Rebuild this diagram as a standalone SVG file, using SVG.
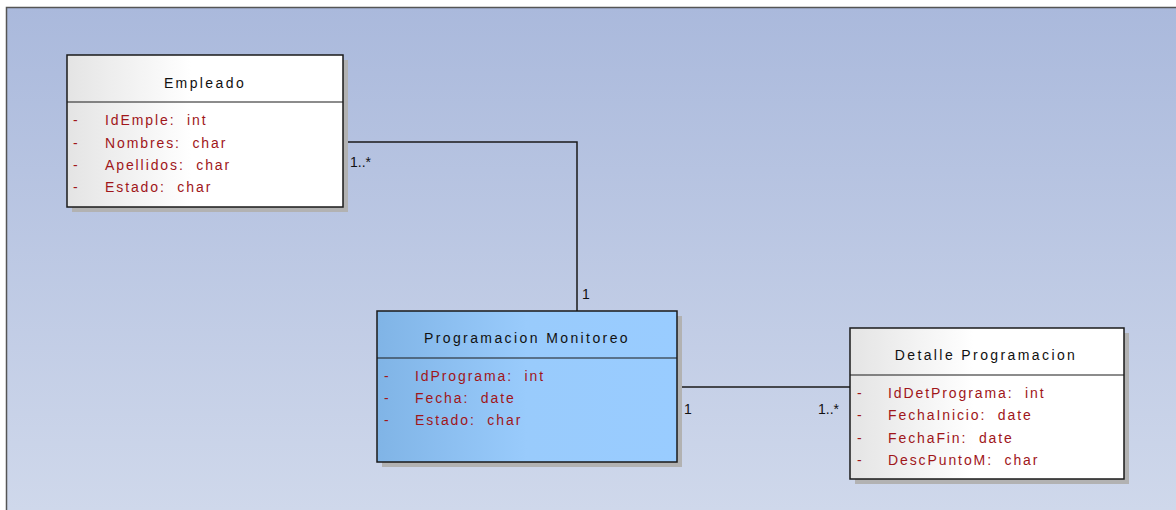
<svg xmlns="http://www.w3.org/2000/svg" width="1176" height="510" viewBox="0 0 1176 510">
<defs>
<linearGradient id="bg" x1="0" y1="0" x2="0" y2="1">
<stop offset="0" stop-color="#aab9dc"/>
<stop offset="1" stop-color="#cfd8eb"/>
</linearGradient>
<linearGradient id="white" x1="0" y1="0" x2="1" y2="0">
<stop offset="0" stop-color="#e4e4e4"/>
<stop offset="0.45" stop-color="#ffffff"/>
<stop offset="1" stop-color="#ffffff"/>
</linearGradient>
<linearGradient id="blue" x1="0" y1="0" x2="1" y2="0">
<stop offset="0" stop-color="#80b4e6"/>
<stop offset="0.5" stop-color="#99cbfc"/>
<stop offset="1" stop-color="#99ccff"/>
</linearGradient>
<style>
.shadow{fill:#b2b2b2}
.box{stroke:#1a1a1a;stroke-width:1.5}
.div{stroke:#1a1a1a;stroke-width:1.2}
.title{font-family:"Liberation Sans",Arial,sans-serif;font-size:14px;fill:#111;letter-spacing:2.4px;text-anchor:middle}
.attr{font-family:"Liberation Sans",Arial,sans-serif;font-size:14px;fill:#a0161a;letter-spacing:1.9px;white-space:pre}
.mult{font-family:"Liberation Sans",Arial,sans-serif;font-size:14px;fill:#111}
.conn{fill:none;stroke:#1a1a1a;stroke-width:1.5}
</style>
</defs>
<rect x="0" y="0" width="1176" height="510" fill="#ffffff"/>
<rect x="6" y="7" width="1170" height="503" fill="url(#bg)"/>
<path d="M6.5 510 V7.5 H1176" fill="none" stroke="#555" stroke-width="1.5"/>

<g id="connectors">
<path class="conn" d="M343 142 H577 V311"/>
<path class="conn" d="M677 387 H850"/>
<text class="mult" x="350" y="167">1..*</text>
<text class="mult" x="582" y="299">1</text>
<text class="mult" x="684" y="414">1</text>
<text class="mult" x="818" y="414">1..*</text>
</g>

<g id="empleado">
<rect class="shadow" x="72" y="60" width="276" height="152"/>
<rect class="box" x="67" y="55" width="276" height="152" fill="url(#white)"/>
<line class="div" x1="67" y1="102" x2="343" y2="102"/>
<text class="title" x="205" y="88">Empleado</text>
<text class="attr" x="73" y="125">-</text><text class="attr" x="105" y="125" xml:space="preserve">IdEmple:  int</text>
<text class="attr" x="73" y="148">-</text><text class="attr" x="105" y="148" xml:space="preserve">Nombres:  char</text>
<text class="attr" x="73" y="170">-</text><text class="attr" x="105" y="170" xml:space="preserve">Apellidos:  char</text>
<text class="attr" x="73" y="192">-</text><text class="attr" x="105" y="192" xml:space="preserve">Estado:  char</text>
</g>

<g id="programacion">
<rect class="shadow" x="382" y="316" width="300" height="151"/>
<rect class="box" x="377" y="311" width="300" height="151" fill="url(#blue)"/>
<line class="div" x1="377" y1="358" x2="677" y2="358"/>
<text class="title" x="527" y="343">Programacion Monitoreo</text>
<text class="attr" x="384" y="381">-</text><text class="attr" x="415" y="381" xml:space="preserve">IdPrograma:  int</text>
<text class="attr" x="384" y="403">-</text><text class="attr" x="415" y="403" xml:space="preserve">Fecha:  date</text>
<text class="attr" x="384" y="425">-</text><text class="attr" x="415" y="425" xml:space="preserve">Estado:  char</text>
</g>

<g id="detalle">
<rect class="shadow" x="855" y="333" width="274" height="151"/>
<rect class="box" x="850" y="328" width="274" height="151" fill="url(#white)"/>
<line class="div" x1="850" y1="375" x2="1124" y2="375"/>
<text class="title" x="986" y="360">Detalle Programacion</text>
<text class="attr" x="857" y="398">-</text><text class="attr" x="888" y="398" xml:space="preserve">IdDetPrograma:  int</text>
<text class="attr" x="857" y="420">-</text><text class="attr" x="888" y="420" xml:space="preserve">FechaInicio:  date</text>
<text class="attr" x="857" y="443">-</text><text class="attr" x="888" y="443" xml:space="preserve">FechaFin:  date</text>
<text class="attr" x="857" y="465">-</text><text class="attr" x="888" y="465" xml:space="preserve">DescPuntoM:  char</text>
</g>
</svg>
